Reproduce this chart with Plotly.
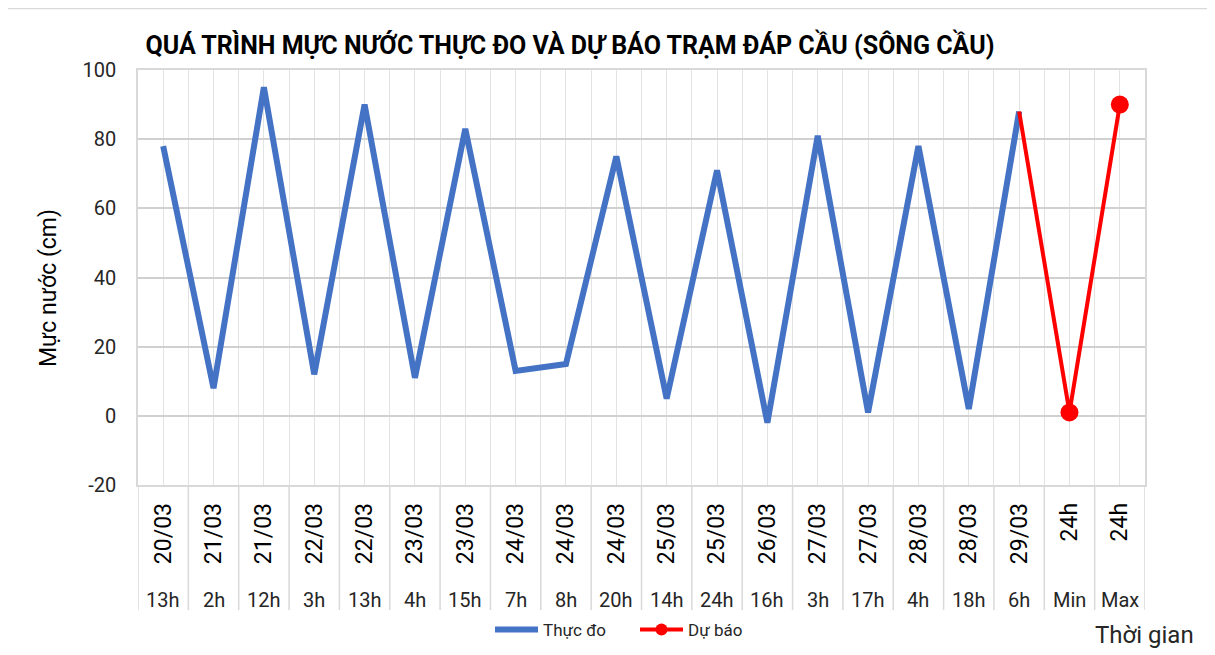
import plotly.graph_objects as go

# ---- data ----
dates = ["20/03", "21/03", "21/03", "22/03", "22/03", "23/03", "23/03", "24/03", "24/03", "24/03",
         "25/03", "25/03", "26/03", "27/03", "27/03", "28/03", "28/03", "29/03", "24h", "24h"]
hours = ["13h", "2h", "12h", "3h", "13h", "4h", "15h", "7h", "8h", "20h",
         "14h", "24h", "16h", "3h", "17h", "4h", "18h", "6h", "Min", "Max"]
observed = [78, 8, 95, 12, 90, 11, 83, 13, 15, 75, 5, 71, -2, 81, 1, 78, 2, 88]
forecast = [88, 1, 90]  # from 29/03 6h to Min, Max
y_ticks = [-20, 0, 20, 40, 60, 80, 100]
y_tick_labels = ["-20", "0", "20", "40", "60", "80", "100"]

FONT = "Roboto, Liberation Sans, Arial, sans-serif"
n = len(dates)
xs = list(range(n))
obs_x = xs[:len(observed)]
fc_x = xs[len(observed) - 1:len(observed) - 1 + len(forecast)]

# figure geometry (px, figure coordinates; the page adds an 8px body margin)
W, H = 1207, 647
L, R, T, B = 130, 70, 62, 170
pw, ph = W - L - R, H - T - B

def px_x(p):
    return (p - L) / pw

def px_y(p):
    return (H - B - p) / ph

fig = go.Figure()
fig.add_trace(go.Scatter(x=obs_x, y=observed, mode="lines", name="Thực đo",
                         line=dict(color="#4472C4", width=6)))
fig.add_trace(go.Scatter(x=fc_x, y=forecast, mode="lines+markers", name="Dự báo",
                         line=dict(color="#FF0000", width=4),
                         marker=dict(color="#FF0000", size=[0, 18, 18], opacity=1,
                                     line=dict(width=0))))

shapes = []
# outer chart frame
shapes.append(dict(type="rect", xref="paper", yref="paper", layer="below",
                   x0=px_x(-3), x1=px_x(1202), y0=px_y(660), y1=px_y(0.5),
                   fillcolor="white", line=dict(color="#d9d9d9", width=1.5)))
# separators in category label area
for i in range(n + 1):
    shapes.append(dict(type="line", xref="x", yref="paper", layer="below",
                       x0=i - 0.5, x1=i - 0.5, y0=0, y1=px_y(602),
                       line=dict(color="#d9d9d9", width=1.5)))

annotations = []
for i, h in enumerate(hours):
    annotations.append(dict(x=i, y=px_y(592), xref="x", yref="paper", text=h,
                            showarrow=False, font=dict(family=FONT, size=20, color="#262626"),
                            xanchor="center", yanchor="middle"))
annotations.append(dict(x=px_x(40), y=px_y(280), xref="paper", yref="paper", text="Mực nước (cm)",
                        textangle=-90, showarrow=False,
                        font=dict(family=FONT, size=23, color="black"),
                        xanchor="center", yanchor="middle"))
annotations.append(dict(x=px_x(1136), y=px_y(627), xref="paper", yref="paper", text="Thời gian",
                        showarrow=False, font=dict(family=FONT, size=24, color="#262626"),
                        xanchor="center", yanchor="middle"))

fig.update_layout(
    width=W, height=H,
    margin=dict(l=L, r=R, t=T, b=B, autoexpand=False),
    paper_bgcolor="white", plot_bgcolor="rgba(0,0,0,0)",
    title=dict(text="<b>QUÁ TRÌNH MỰC NƯỚC THỰC ĐO VÀ DỰ BÁO TRẠM ĐÁP CẦU (SÔNG CẦU)</b>",
               x=562 / W, xanchor="center",
               y=1 - 37 / H, yanchor="middle", yref="container",
               font=dict(family=FONT, size=25, color="black")),
    xaxis=dict(range=[-0.5, n - 0.5], tickmode="array", tickvals=xs, ticktext=dates,
               tickangle=-90, tickfont=dict(family=FONT, size=23, color="black"),
               ticklabelstandoff=7,
               showgrid=True, gridcolor="#e3e3e3", gridwidth=1.2,
               minor=dict(tick0=-0.5, dtick=1, showgrid=True, gridcolor="#e3e3e3", gridwidth=1.2),
               showline=True, linecolor="#d9d9d9", linewidth=1.5, mirror=True,
               ticks="", zeroline=False, fixedrange=True),
    yaxis=dict(range=[-20, 100], tickmode="array", tickvals=y_ticks, ticktext=y_tick_labels,
               tickfont=dict(family=FONT, size=20, color="#262626"),
               showgrid=True, gridcolor="#d0d0d0", gridwidth=1.5,
               showline=True, linecolor="#d9d9d9", linewidth=1.5, mirror=True,
               ticks="", ticklabelstandoff=16, zeroline=False),
    legend=dict(orientation="h", x=px_x(482), xanchor="left", y=px_y(622), yanchor="middle",
                itemwidth=43, entrywidth=87, entrywidthmode="pixels",
                font=dict(family=FONT, size=17, color="#262626"), bgcolor="rgba(0,0,0,0)"),
    shapes=shapes, annotations=annotations,
)

fig.write_html("out.html")
